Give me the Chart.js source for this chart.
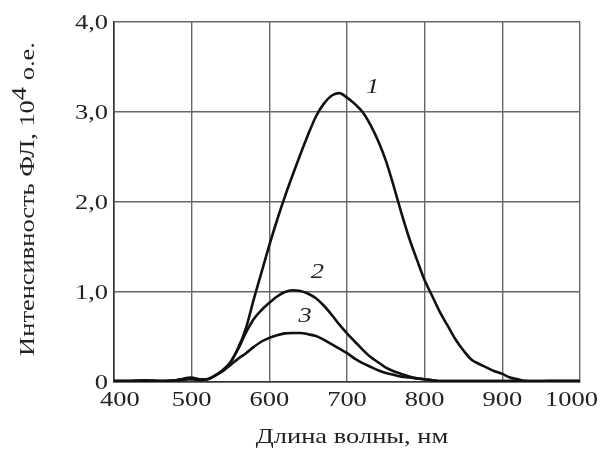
<!DOCTYPE html>
<html>
<head>
<meta charset="utf-8">
<script src="https://cdn.jsdelivr.net/npm/chart.js@4"></script>
<style>
  body { margin: 0; background: #fff; }
  #wrap { width: 603px; height: 450px; position: relative; }
</style>
</head>
<body>
<div id="wrap"><canvas id="myChart"></canvas></div>
<script>
const wavelengths = [400, 420, 440, 460, 480, 500, 510, 520, 530, 540, 550, 560, 570, 580, 590, 600, 610, 620, 630, 640, 650, 660, 670, 680, 690, 700, 710, 720, 730, 740, 750, 760, 770, 780, 790, 800, 810, 820, 830, 840, 850, 860, 870, 880, 890, 900, 910, 920, 930, 940, 960, 980, 1000];

const curve1 = [0.01, 0.01, 0.02, 0.01, 0.02, 0.05, 0.03, 0.03, 0.07, 0.13, 0.22, 0.38, 0.6, 0.92, 1.22, 1.52, 1.8, 2.06, 2.3, 2.53, 2.75, 2.95, 3.09, 3.18, 3.21, 3.16, 3.09, 3.0, 2.86, 2.68, 2.46, 2.18, 1.88, 1.6, 1.36, 1.13, 0.95, 0.77, 0.62, 0.47, 0.35, 0.25, 0.2, 0.16, 0.12, 0.09, 0.05, 0.03, 0.01, 0.005, 0.01, 0.01, 0.01];
const curve2 = [0.01, 0.01, 0.01, 0.01, 0.02, 0.04, 0.03, 0.03, 0.07, 0.13, 0.22, 0.37, 0.55, 0.7, 0.8, 0.88, 0.95, 1.0, 1.02, 1.01, 0.98, 0.93, 0.85, 0.75, 0.64, 0.54, 0.45, 0.36, 0.28, 0.22, 0.16, 0.12, 0.09, 0.06, 0.04, 0.03, 0.02, 0.01, 0.01, 0.01, 0.01, 0.01, 0.01, 0.01, 0.01, 0.01, 0.01, 0.01, 0.01, 0.01, 0.01, 0.01, 0.01];
const curve3 = [0.01, 0.01, 0.01, 0.01, 0.02, 0.03, 0.02, 0.03, 0.07, 0.12, 0.19, 0.26, 0.32, 0.39, 0.45, 0.49, 0.52, 0.54, 0.545, 0.545, 0.53, 0.51, 0.47, 0.42, 0.37, 0.32, 0.26, 0.21, 0.17, 0.13, 0.1, 0.08, 0.06, 0.05, 0.04, 0.03, 0.02, 0.01, 0.01, 0.01, 0.01, 0.01, 0.01, 0.01, 0.01, 0.01, 0.01, 0.01, 0.01, 0.01, 0.01, 0.01, 0.01];

const xTicks = [400, 500, 600, 700, 800, 900, 1000];
const xTickLabels = ["400", "500", "600", "700", "800", "900", "1000"];
const yTicks = [0, 1, 2, 3, 4];
const yTickLabels = ["0", "1,0", "2,0", "3,0", "4,0"];

const curveLabels = ["1", "2", "3"];
const labelX = [733, 662, 646];
const labelY = [3.27, 1.22, 0.73];

const xTitle = "Длина волны, нм";
const yTitleMain = "Интенсивность ФЛ, 10";
const yTitleSup = "4";
const yTitleEnd = " о.е.";

document.addEventListener("DOMContentLoaded", function () {
  const ctx = document.getElementById("myChart").getContext("2d");
  const serif = "'Liberation Serif', 'DejaVu Serif', serif";
  const font = "21px " + serif;
  const stretch = 1.26; // the lettering in the picture is wide

  function series(values) {
    return wavelengths.map((w, i) => ({ x: w, y: values[i] }));
  }

  // draw text widened along its baseline; align: left / center / right
  function wideText(c, text, x, y, align) {
    const w = c.measureText(text).width * stretch;
    let x0 = x;
    if (align === "center") x0 = x - w / 2;
    if (align === "right") x0 = x - w;
    c.save();
    c.translate(x0, y);
    c.scale(stretch, 1);
    c.textAlign = "left";
    c.fillText(text, 0, 0);
    c.restore();
    return w;
  }

  const lineStyle = {
    borderColor: "#111",
    borderWidth: 2.6,
    pointRadius: 0,
    cubicInterpolationMode: "monotone",
    fill: false,
  };

  const data = {
    datasets: [
      Object.assign({ label: "1", data: series(curve1) }, lineStyle),
      Object.assign({ label: "2", data: series(curve2) }, lineStyle),
      Object.assign({ label: "3", data: series(curve3) }, lineStyle),
    ],
  };

  const textPlugin = {
    id: "textPlugin",
    afterDraw(chart) {
      const c = chart.ctx;
      const xs = chart.scales.x;
      const ys = chart.scales.y;
      const area = chart.chartArea;
      c.save();
      c.fillStyle = "#222";
      c.textBaseline = "middle";

      // tick labels
      c.font = font;
      yTicks.forEach((v, i) => {
        wideText(c, yTickLabels[i], area.left - 6, ys.getPixelForValue(v) + 1, "right");
      });
      xTicks.forEach((v, i) => {
        const w = c.measureText(xTickLabels[i]).width * stretch;
        let cx = xs.getPixelForValue(v);
        cx = Math.max(cx, 100 + w / 2);
        cx = Math.min(cx, 598 - w / 2);
        wideText(c, xTickLabels[i], cx, 400, "center");
      });

      // curve numbers
      c.font = "italic 21px " + serif;
      curveLabels.forEach((t, i) => {
        wideText(c, t, xs.getPixelForValue(labelX[i]), ys.getPixelForValue(labelY[i]), "center");
      });

      // axis titles
      c.font = font;
      wideText(c, xTitle, (area.left + area.right) / 2 + 5, 437, "center");

      c.translate(28, 199);
      c.rotate(-Math.PI / 2);
      const w1 = c.measureText(yTitleMain).width * stretch;
      const w2 = c.measureText(yTitleSup).width * stretch;
      const w3 = c.measureText(yTitleEnd).width * stretch;
      const x0 = -(w1 + w2 + w3) / 2;
      wideText(c, yTitleMain, x0, 0, "left");
      wideText(c, yTitleSup, x0 + w1, -8, "left");
      wideText(c, yTitleEnd, x0 + w1 + w2, 0, "left");
      c.restore();
    },
  };

  const config = {
    type: "line",
    data: data,
    options: {
      responsive: true,
      maintainAspectRatio: false,
      animation: false,
      layout: { padding: { left: 0, top: 22, right: 23, bottom: 0 } },
      plugins: {
        legend: { display: false },
        tooltip: { enabled: false },
      },
      scales: {
        x: {
          type: "linear",
          min: 400,
          max: 1000,
          afterBuildTicks: (s) => { s.ticks = xTicks.map((v) => ({ value: v })); },
          afterFit: (s) => { s.height = 68; s.paddingLeft = 0; s.paddingRight = 0; },
          ticks: { display: false },
          grid: { color: "#666", lineWidth: 1.4, drawTicks: false },
          border: { color: "#333", width: 1.6 },
        },
        y: {
          min: 0,
          max: 4,
          afterBuildTicks: (s) => { s.ticks = yTicks.map((v) => ({ value: v })); },
          afterFit: (s) => { s.width = 114; s.paddingTop = 0; s.paddingBottom = 0; },
          ticks: { display: false },
          grid: { color: "#666", lineWidth: 1.4, drawTicks: false },
          border: { color: "#333", width: 1.6 },
        },
      },
    },
    plugins: [textPlugin],
  };

  const fluoChart = new Chart(ctx, config);
});
</script>
</body>
</html>
